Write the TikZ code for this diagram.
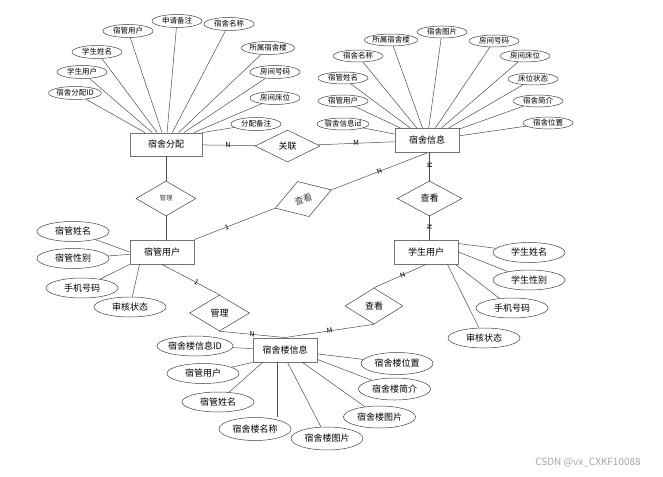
\documentclass[tikz,border=0pt]{standalone}
\usepackage{fontspec}
\setmainfont{Noto Sans CJK SC}
\usetikzlibrary{shapes.geometric,calc}

\tikzset{
    attr/.style={ellipse, draw=black!75, line width=0.5pt, inner sep=0pt,
        minimum width=50pt, minimum height=13pt, font=\fontsize{7.5}{8}\selectfont},
    bigattr/.style={attr, minimum width=72pt, minimum height=20pt,
        font=\fontsize{9}{10}\selectfont},
    ent/.style={rectangle, draw=black!55, line width=0.9pt, minimum width=64pt,
        minimum height=24pt, font=\fontsize{9}{10}\selectfont},
    rel/.style={diamond, draw=black!75, line width=0.5pt, inner sep=0pt, aspect=1.7,
        minimum width=60pt, minimum height=35pt, font=\fontsize{9}{10}\selectfont},
    link/.style={draw=black!70, line width=0.5pt},
    card/.style={font=\fontsize{7}{8}\selectfont, inner sep=0pt, sloped}
}

\begin{document}
\begin{tikzpicture}[x=1pt, y=-1pt]
    \useasboundingbox (0,0) rectangle (663,476);

    % entity: dormitory allocation and its attributes
    \node[ent, minimum width=72pt, minimum height=23pt] (fp) at (166,144.5) {宿舍分配};
    \node[attr] (fp1) at (75,93) {宿舍分配ID};
    \node[attr] (fp2) at (82,72) {学生用户};
    \node[attr] (fp3) at (97,52) {学生姓名};
    \node[attr] (fp4) at (128,31) {宿管用户};
    \node[attr] (fp5) at (177,21) {申请备注};
    \node[attr] (fp6) at (229,24) {宿舍名称};
    \node[attr] (fp7) at (268,48) {所属宿舍楼};
    \node[attr] (fp8) at (275,72) {房间号码};
    \node[attr] (fp9) at (275,98) {房间床位};
    \node[attr] (fp10) at (256,124) {分配备注};
    \draw[link] (fp1) -- (fp);
    \draw[link] (fp2) -- (fp);
    \draw[link] (fp3) -- (fp);
    \draw[link] (fp4) -- (fp);
    \draw[link] (fp5) -- (fp);
    \draw[link] (fp6) -- (fp);
    \draw[link] (fp7) -- (fp);
    \draw[link] (fp8) -- (fp);
    \draw[link] (fp9) -- (fp);
    \draw[link] (fp10) -- (fp.north east);

    % entity: dormitory information and its attributes
    \node[ent] (xx) at (427,140.5) {宿舍信息};
    \node[attr, minimum height=12pt] (xx1) at (343,124) {宿舍信息id};
    \node[attr, minimum height=12pt] (xx2) at (343,101) {宿管用户};
    \node[attr, minimum height=12pt] (xx3) at (343,78) {宿管姓名};
    \node[attr, minimum height=12pt] (xx4) at (358,56) {宿舍名称};
    \node[attr, minimum height=12pt] (xx5) at (391,40) {所属宿舍楼};
    \node[attr, minimum height=12pt] (xx6) at (442,32) {宿舍图片};
    \node[attr, minimum height=12pt] (xx7) at (494,41) {房间号码};
    \node[attr, minimum height=12pt] (xx8) at (525,56) {房间床位};
    \node[attr, minimum height=12pt] (xx9) at (533,79) {床位状态};
    \node[attr, minimum height=12pt] (xx10) at (538,101) {宿舍简介};
    \node[attr, minimum height=12pt] (xx11) at (548,123) {宿舍位置};
    \draw[link] (xx1) -- ([yshift=-6pt]xx.north west);
    \draw[link] (xx2) -- (xx);
    \draw[link] (xx3) -- (xx);
    \draw[link] (xx4) -- (xx);
    \draw[link] (xx5) -- (xx);
    \draw[link] (xx6) -- (xx);
    \draw[link] (xx7) -- (xx);
    \draw[link] (xx8) -- (xx);
    \draw[link] (xx9) -- (xx);
    \draw[link] (xx10) -- (xx);
    \draw[link] (xx11) -- (xx);

    % relation between allocation and information
    \node[rel, minimum width=65pt, minimum height=32pt] (gl) at (287.5,146) {关联};
    \draw[link] (fp) -- node[card, pos=0.48] {N} (gl);
    \draw[link] (gl) -- node[card, pos=0.5] {M} (xx);

    % entity: dorm manager user
    \node[ent] (sg) at (162,252) {宿管用户};
    \node[bigattr] (sg1) at (73,231.5) {宿管姓名};
    \node[bigattr] (sg2) at (73,258.5) {宿管性别};
    \node[bigattr] (sg3) at (82,288) {手机号码};
    \node[bigattr] (sg4) at (130,307) {审核状态};
    \draw[link] (sg1) -- (sg.west);
    \draw[link] (sg2) -- (sg);
    \draw[link] (sg3) -- (sg.south west);
    \draw[link] (sg4) -- ([xshift=10pt]sg.south west);

    % entity: student user
    \node[ent] (xs) at (426,252) {学生用户};
    \node[bigattr] (xs1) at (529,252.5) {学生姓名};
    \node[bigattr] (xs2) at (529,280) {学生性别};
    \node[bigattr] (xs3) at (512,308) {手机号码};
    \node[bigattr] (xs4) at (484,338) {审核状态};
    \draw[link] (xs1) -- ([yshift=-4pt]xs.north east);
    \draw[link] (xs2) -- (xs.east);
    \draw[link] (xs3) -- ([xshift=-3pt]xs.south east);
    \draw[link] (xs4) -- ([xshift=-11pt]xs.south east);

    % manager manages allocation
    \node[rel, font=\fontsize{6.5}{7}\selectfont, text=black!75] (gl1) at (166,198.5) {管理};
    \draw[link] (fp.south -| gl1.north) -- (gl1.north);
    \draw[link] (gl1.south) -- (gl1.south |- sg.north);

    % manager views information
    \node[rel, rotate=18, minimum width=59pt, minimum height=37pt, text=black!75] (ck1) at ($(sg.north east)!0.468!(xx.south)$) {查看};
    \draw[link] (sg.north east) -- node[card, pos=0.4] {1} (ck1.west);
    \draw[link] (ck1.east) -- node[card, pos=0.5] {N} (xx.south);

    % student views information
    \node[rel, minimum width=65pt, minimum height=35pt] (ck2) at (429.5,198.5) {查看};
    \draw[link] (xx.south -| ck2.north) -- node[card, pos=0.45] {M} (ck2.north);
    \draw[link] (ck2.south) -- node[card, pos=0.45] {N} (ck2.south |- xs.north);

    % entity: dormitory building information
    \node[ent] (lxx) at (285,350) {宿舍楼信息};
    \node[bigattr, minimum width=74pt] (lx1) at (195,346) {宿舍楼信息ID};
    \node[bigattr] (lx2) at (203,373.5) {宿管用户};
    \node[bigattr] (lx3) at (218,402) {宿管姓名};
    \node[bigattr, minimum height=23pt] (lx4) at (255,429) {宿舍楼名称};
    \node[bigattr, minimum height=23pt] (lx5) at (327,438.5) {宿舍楼图片};
    \node[bigattr, minimum height=22pt] (lx6) at (379.5,417) {宿舍楼图片};
    \node[bigattr, minimum height=22pt] (lx7) at (394.5,389) {宿舍楼简介};
    \node[bigattr, minimum height=22pt] (lx8) at (397,363.5) {宿舍楼位置};
    \draw[link] (lx1) -- (lxx);
    \draw[link] (lx2) -- (lxx.south west);
    \draw[link] (lx3) -- ([xshift=10pt]lxx.south west);
    \draw[link] ([xshift=25pt]lxx.south west) -- ([xshift=25pt]lxx.south west |- lx4.north);
    \draw[link] (lx5) -- ([xshift=35pt]lxx.south west);
    \draw[link] (lx6) -- ([xshift=-15pt]lxx.south east);
    \draw[link] (lx7) -- ([yshift=3pt]lxx.south east);
    \draw[link] (lx8) -- (lxx);

    % manager manages building
    \node[rel, minimum width=60pt, minimum height=36pt] (gl2) at (219.5,313) {管理};
    \draw[link] (sg.south) -- node[card, pos=0.6] {1} (gl2.north);
    \draw[link] (gl2.south) -- node[card, pos=0.5] {N} (lxx.north);

    % student views building
    \node[rel, minimum width=58pt, minimum height=36pt] (ck3) at (374,306) {查看};
    \draw[link] (xs.south) -- node[card, pos=0.45] {N} (ck3.north);
    \draw[link] (ck3.south) -- node[card, pos=0.5] {M} (lxx.north);

    % watermark
    \node[text=black!35, font=\fontsize{10}{11}\selectfont] (wm) at (588,463) {CSDN @vx\_CXKF10088};

\end{tikzpicture}
\end{document}
